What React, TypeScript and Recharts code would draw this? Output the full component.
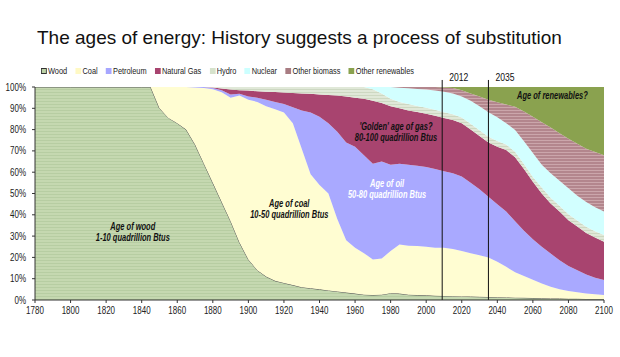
import React from 'react';
import { AreaChart, Area, XAxis, YAxis, ReferenceLine, ReferenceDot, Legend } from 'recharts';

const SANS = '"Liberation Sans", Arial, Helvetica, sans-serif';

const years = [
  1780, 1800, 1820, 1840, 1845, 1850, 1855, 1860, 1865, 1870,
  1875, 1880, 1885, 1890, 1895, 1900, 1905, 1910, 1915, 1920,
  1925, 1930, 1935, 1940, 1945, 1950, 1955, 1960, 1965, 1970,
  1975, 1980, 1985, 1990, 1995, 2000, 2005, 2010, 2015, 2020,
  2025, 2030, 2035, 2040, 2045, 2050, 2055, 2060, 2065, 2070,
  2075, 2080, 2085, 2090, 2095, 2100,
];

// upper edge of each band, in %
const woodTop = [
  100, 100, 100, 100, 100, 90, 85.5, 83, 80, 73,
  64, 55, 46, 37, 27, 19, 14, 11, 9, 8,
  7, 6, 5.5, 5, 4.5, 4, 3.5, 3, 2.5, 2.3,
  2.5, 3.2, 3, 2.5, 2.3, 2.2, 2, 1.9, 1.8, 1.7,
  1.6, 1.5, 1.4, 1.3, 1.2, 1.1, 1, 0.9, 0.8, 0.7,
  0.7, 0.6, 0.6, 0.5, 0.5, 0.5,
];
const coalTop = [
  100, 100, 100, 100, 100, 100, 100, 100, 100, 99.8,
  99.5, 99, 97.5, 95, 96, 94, 93, 91, 89.5, 88,
  83, 71, 59, 54, 50, 38, 28, 24.5, 22, 19,
  19.5, 23, 26, 25.5, 25.3, 25, 24.5, 24.5, 24, 23,
  22, 21, 20, 18, 15.6, 13, 11.3, 9.5, 7.8, 6.2,
  5, 4.2, 3.6, 3.1, 2.7, 2.3,
];
const petroleumTop = [
  100, 100, 100, 100, 100, 100, 100, 100, 100, 100,
  100, 99.5, 98.5, 96.5, 96.8, 95.5, 95, 94, 93, 92,
  90.5, 89, 88, 86, 83, 79, 74, 72, 68, 64,
  65, 63.5, 64, 63.5, 63, 62.5, 61.5, 60.5, 59.5, 58,
  55, 52, 48.5, 45, 41.5, 37, 32.5, 28.5, 25, 21.8,
  18.7, 16, 14, 12, 10.5, 9.4,
];
const gasTop = [
  100, 100, 100, 100, 100, 100, 100, 100, 100, 100,
  100, 99.8, 99.3, 98.8, 98.5, 98.3, 98, 97.8, 97.6, 97.4,
  97.2, 97, 96.8, 96.5, 96.2, 96, 95.5, 95, 94.5, 93.5,
  92.5, 91, 90, 89, 88.3, 87.5, 86.5, 85.5, 84.5, 83,
  80, 77, 74, 72, 70.4, 67, 61.5, 55.5, 50, 45.3,
  41.5, 37.5, 34.5, 31.5, 29.3, 27.4,
];
const hydroTop = [
  100, 100, 100, 100, 100, 100, 100, 100, 100, 100,
  100, 100, 100, 100, 100, 100, 100, 100, 100, 100,
  100, 100, 100, 100, 100, 100, 100, 100, 100, 99,
  97, 94.5, 93, 92, 91.1, 90.3, 89.3, 88.2, 87.2, 85.7,
  82.7, 79.7, 76.7, 74.6, 73, 69.6, 63.9, 57.8, 52.8, 48,
  44.2, 40.3, 37.3, 34.4, 32.3, 30.5,
];
const nuclearTop = [
  100, 100, 100, 100, 100, 100, 100, 100, 100, 100,
  100, 100, 100, 100, 100, 100, 100, 100, 100, 100,
  100, 100, 100, 100, 100, 100, 100, 100, 100, 100,
  100, 100, 99.7, 99.4, 99.1, 98.8, 98.4, 97.8, 97, 95.5,
  93.5, 91, 88.2, 85.8, 83, 79.8, 74.5, 69, 63.5, 59.5,
  56, 52.5, 49, 46, 43.5, 41.5,
];
const biomassTop = [
  100, 100, 100, 100, 100, 100, 100, 100, 100, 100,
  100, 100, 100, 100, 100, 100, 100, 100, 100, 100,
  100, 100, 100, 100, 100, 100, 100, 100, 100, 100,
  100, 100, 100, 100, 100, 100, 100, 99.8, 99.5, 98.5,
  97, 95.5, 94, 92.8, 91.8, 90.7, 88.5, 86, 83.5, 81,
  78.3, 75.7, 73.3, 71, 69.5, 68,
];

const seriesKeys = ['wood', 'coal', 'petroleum', 'gas', 'hydro', 'nuclear', 'biomass', 'renewables'];
const seriesNames = ['Wood', 'Coal', 'Petroleum', 'Natural Gas', 'Hydro', 'Nuclear', 'Other biomass', 'Other renewables'];
const seriesFills = ['url(#woodStripe)', '#fffdd2', '#a9a9ff', '#a8446f', 'url(#hydroStripe)', '#d2ffff', 'url(#biomassStripe)', '#8aa24f'];
const swatchColors = ['#bcd2a6', '#fff9c4', '#a6a6ff', '#a8446f', '#d6e2cc', '#ccffff', '#a87c82', '#8aa24f'];

const xTicks = [1780, 1800, 1820, 1840, 1860, 1880, 1900, 1920, 1940, 1960, 1980, 2000, 2020, 2040, 2060, 2080, 2100];
const yTicks = [0, 10, 20, 30, 40, 50, 60, 70, 80, 90, 100];

const markerYears = [2009, 2035];
const markerLabels = ['2012', '2035'];

const annotations = [
  { year: 1835, share: 33, lines: ['Age of wood', '1-10 quadrillion Btus'], color: '#111' },
  { year: 1923, share: 43.5, lines: ['Age of coal', '10-50 quadrillion Btus'], color: '#111' },
  { year: 1978, share: 53, lines: ['Age of oil', '50-80 quadrillion Btus'], color: '#ffffff' },
  { year: 1983, share: 80, lines: ["'Golden' age of gas?", '80-100 quadrillion Btus'], color: '#111' },
  { year: 2071, share: 94.4, lines: ['Age of renewables?'], color: '#111' },
];

const tops = [woodTop, coalTop, petroleumTop, gasTop, hydroTop, nuclearTop, biomassTop];

const data = years.map((year, i) => {
  const row: any = { year };
  let below = 0;
  seriesKeys.forEach((key, k) => {
    const top = k < tops.length ? tops[k][i] : 100;
    row[key] = Math.max(0, top - below);
    below = top;
  });
  return row;
});

// no narrow font installed, so squeeze Liberation Sans horizontally
const XTick = (props: any) => {
  const { x, y, payload } = props;
  return (
    <text transform={`translate(${x},${y}) scale(0.8,1)`} textAnchor="middle" dy="0.71em"
      fontFamily={SANS} fontSize={10} fill="#222">{payload.value}</text>
  );
};

const YTick = (props: any) => {
  const { x, y, payload } = props;
  return (
    <text transform={`translate(${x},${y}) scale(0.8,1)`} textAnchor="end" dy="0.355em"
      fontFamily={SANS} fontSize={10} fill="#222">{`${payload.value}%`}</text>
  );
};

const AnnotationLabel = (props: any) => {
  const { viewBox, lines, color } = props;
  return (
    <text transform={`translate(${viewBox.x},${viewBox.y}) scale(0.75,1)`} textAnchor="middle"
      fontFamily={SANS} fontSize={10} fontWeight="bold" fontStyle="italic" fill={color}>
      {lines.map((t: string, i: number) => (
        <tspan key={i} x={0} dy={i === 0 ? 0 : 11}>{t}</tspan>
      ))}
    </text>
  );
};

const MarkerLabel = (props: any) => {
  const { viewBox, text } = props;
  return (
    <text transform={`translate(${viewBox.x + 7},${viewBox.y + 1.5}) scale(0.82,1)`}
      fontFamily={SANS} fontSize={10.5} fill="#111">{text}</text>
  );
};

const renderLegend = () => (
  <div style={{
    display: 'flex', fontFamily: SANS, fontSize: 9, color: '#222', whiteSpace: 'nowrap',
    transform: 'scaleX(0.82)', transformOrigin: 'left center',
  }}>
    {seriesNames.map((name, i) => (
      <span key={name} style={{ display: 'flex', alignItems: 'center', marginRight: 10.2 }}>
        <span style={{
          width: 7, height: 6, background: swatchColors[i], marginRight: 1.5,
          boxSizing: 'border-box', border: i === 0 ? '1px solid #333' : 'none',
        }} />
        {name}
      </span>
    ))}
  </div>
);

export default function App() {
  return (
    <div style={{ position: 'absolute', left: 0, top: 0, width: 620, height: 357, background: '#fff' }}>
      <div style={{
        position: 'absolute', left: 37, top: 27, fontFamily: SANS,
        fontSize: 19, color: '#111', whiteSpace: 'nowrap', lineHeight: 'normal',
      }}>
        The ages of energy: History suggests a process of substitution
      </div>
      <AreaChart width={620} height={357} data={data} margin={{ top: 87, right: 16, bottom: 27, left: 0 }}>
        <defs>
          <pattern id="woodStripe" width="4" height="3" patternUnits="userSpaceOnUse">
            <rect width="4" height="3" fill="#c5d8b0" />
            <rect y="2" width="4" height="1" fill="#b7cda2" />
          </pattern>
          <pattern id="hydroStripe" width="4" height="3" patternUnits="userSpaceOnUse">
            <rect width="4" height="3" fill="#e0e8d8" />
            <rect y="2" width="4" height="1" fill="#cdd8c2" />
          </pattern>
          <pattern id="biomassStripe" width="4" height="3" patternUnits="userSpaceOnUse">
            <rect width="4" height="3" fill="#b3868d" />
            <rect y="2" width="4" height="1" fill="#cba6ab" />
          </pattern>
        </defs>
        <XAxis dataKey="year" type="number" domain={[1780, 2100]} ticks={xTicks} allowDataOverflow
          height={30} tickSize={3} tickMargin={4} interval={0}
          axisLine={{ stroke: '#333' }} tickLine={{ stroke: '#333' }}
          tick={<XTick />} />
        <YAxis type="number" domain={[0, 100]} ticks={yTicks} allowDataOverflow width={35}
          tickSize={3} tickMargin={6} interval={0}
          axisLine={{ stroke: '#333' }} tickLine={{ stroke: '#333' }}
          tick={<YTick />} />
        <Legend layout="horizontal" verticalAlign="middle" align="center" content={renderLegend}
          wrapperStyle={{ top: 66, left: 41, width: 'auto', height: 'auto' }} />
        {seriesKeys.map((key, k) => (
          <Area key={key} dataKey={key} name={seriesNames[k]} stackId="1" type="linear"
            fill={seriesFills[k]} fillOpacity={1}
            stroke={k === 0 ? '#555' : 'none'} strokeWidth={k === 0 ? 1 : 0}
            dot={false} activeDot={false} isAnimationActive={false} />
        ))}
        {markerYears.map((yr, i) => (
          <ReferenceLine key={yr} segment={[{ x: yr, y: 0 }, { x: yr, y: 103.3 }]} ifOverflow="visible"
            stroke="#111" strokeWidth={1}
            label={<MarkerLabel text={markerLabels[i]} />} />
        ))}
        {annotations.map((a) => (
          <ReferenceDot key={a.lines[0]} x={a.year} y={a.share} r={0} fill="none" stroke="none"
            label={<AnnotationLabel lines={a.lines} color={a.color} />} />
        ))}
      </AreaChart>
    </div>
  );
}
